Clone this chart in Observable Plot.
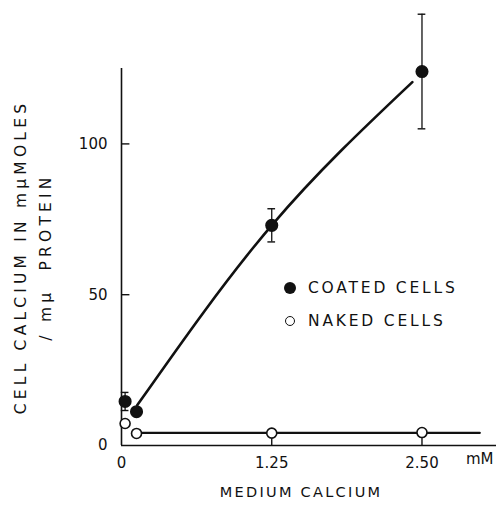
<!DOCTYPE html>
<html>
<head>
<meta charset="utf-8">
<script src="https://cdn.jsdelivr.net/npm/d3@7"></script>
<script src="https://cdn.jsdelivr.net/npm/@observablehq/plot@0.6"></script>
<style>
  html, body { margin: 0; padding: 0; background: #fff; }
  #wrap { position: relative; width: 496px; height: 517px; }
  #legend { position: absolute; left: 284px; top: 271px; font-family: "DejaVu Sans", sans-serif; font-size: 15.5px; letter-spacing: 2.8px; color: #111; }
  #legend .row { display: flex; align-items: center; height: 33px; }
  #legend .sym { width: 12px; height: 12px; border-radius: 50%; box-sizing: border-box; margin-right: 12px; }
</style>
</head>
<body>
<div id="wrap"></div>
<script>
// Data
const medium = [0.03, 0.125, 1.25, 2.5];            // medium calcium, mM
const coated = [14.6, 11.2, 73, 124];                // cell calcium, coated cells
const coatedErr = [3, 0, 5.5, 19];
const naked = [7.3, 4.0, 4.1, 4.3];                  // cell calcium, naked cells
const nakedErr = [0, 0, 1, 1];
const coatedCurveX = [0.13, 1.25, 2.42];
const coatedCurveY = [13.3, 73, 120.5];
const nakedLineX = [0.125, 2.98];
const nakedLineY = [4.2, 4.2];
const xTicks = [0, 1.25, 2.5];
const xTickLabels = ["0", "1.25", "2.50"];
const yTicks = [0, 50, 100];
const seriesNames = ["COATED CELLS", "NAKED CELLS"];
const xUnit = "mM";
const xTitle = "MEDIUM CALCIUM";
const yTitle = ["CELL CALCIUM IN m\u03BCMOLES", "/ m\u03BC  PROTEIN"];

const pts = medium.map((x, i) => ({x, c: coated[i], ce: coatedErr[i], n: naked[i], ne: nakedErr[i]}));
const curve = coatedCurveX.map((x, i) => ({x, y: coatedCurveY[i]}));
const nline = nakedLineX.map((x, i) => ({x, y: nakedLineY[i]}));
const caps = pts.filter(d => d.ce > 0).flatMap(d => [{x: d.x, y: d.c - d.ce}, {x: d.x, y: d.c + d.ce}]);
const font = "DejaVu Sans, sans-serif";

const chart = Plot.plot({
  width: 496,
  height: 517,
  marginLeft: 121,
  marginRight: 0,
  marginTop: 68,
  marginBottom: 72,
  style: {fontFamily: font, background: "#fff", color: "#111"},
  x: {domain: [0, 3.12]},
  y: {domain: [0, 125]},
  marks: [
    Plot.axisY({ticks: yTicks, tickSize: 0, tickPadding: 14, fontSize: 15, label: null}),
    Plot.axisX({ticks: xTicks, tickFormat: d => xTickLabels[xTicks.indexOf(d)], tickSize: 0, tickPadding: 12, fontSize: 15, label: null}),
    Plot.ruleX([0], {stroke: "#111", strokeWidth: 1.6}),
    Plot.ruleY([0], {stroke: "#111", strokeWidth: 1.6}),
    Plot.ruleY(yTicks.filter(d => d > 0), {y: d => d, x1: 0, x2: 0.07, stroke: "#111", strokeWidth: 1.4}),
    Plot.ruleX(xTicks.filter(d => d > 0), {x: d => d, y1: 0, y2: 2.6, stroke: "#111", strokeWidth: 1.4}),
    // error bars
    Plot.ruleX(pts.filter(d => d.ce > 0), {x: "x", y1: d => d.c - d.ce, y2: d => d.c + d.ce, stroke: "#111", strokeWidth: 1.3}),
    Plot.ruleY(caps, {y: "y", x1: d => d.x - 0.032, x2: d => d.x + 0.032, stroke: "#111", strokeWidth: 1.4}),
    Plot.ruleX(pts.filter(d => d.ne > 0), {x: "x", y1: d => d.n - d.ne, y2: d => d.n + d.ne, stroke: "#111", strokeWidth: 1.3}),
    // fitted lines
    Plot.line(curve, {x: "x", y: "y", curve: "natural", stroke: "#111", strokeWidth: 2.6}),
    Plot.line(nline, {x: "x", y: "y", stroke: "#111", strokeWidth: 2.4}),
    // points
    Plot.dot(pts, {x: "x", y: "n", r: 5, fill: "#fff", stroke: "#111", strokeWidth: 1.6}),
    Plot.dot(pts, {x: "x", y: "c", r: 5.8, fill: "#111", stroke: "#111"}),
    // unit and titles
    Plot.text([xUnit], {frameAnchor: "bottom-right", textAnchor: "end", dx: -3, dy: 18, fontSize: 15, fill: "#111"}),
    Plot.text([xTitle], {frameAnchor: "bottom", dx: -8, dy: 51, fontSize: 14.5, fill: "#111"}),
    Plot.text([yTitle.join("\n")], {frameAnchor: "left", textAnchor: "middle", rotate: -90, dx: -91, lineHeight: 1.6, fontSize: 15.5, fill: "#111"})
  ]
});
document.getElementById("wrap").appendChild(chart);
const txt = d3.select(chart).selectAll("text");
txt.filter(function(){ return this.textContent === xTitle; }).style("letter-spacing", "2.3px");
txt.filter(function(){ return this.textContent.startsWith("CELL"); }).style("letter-spacing", "4.2px");

const legend = document.createElement("div");
legend.id = "legend";
legend.innerHTML = seriesNames.map((name, i) =>
  `<div class="row"><div class="sym" style="${i === 0 ? "background:#111;" : "border:1.6px solid #111;width:10px;height:10px;margin-left:1px;margin-right:13px;"}"></div><span>${name}</span></div>`).join("");
document.getElementById("wrap").appendChild(legend);
</script>
</body>
</html>
